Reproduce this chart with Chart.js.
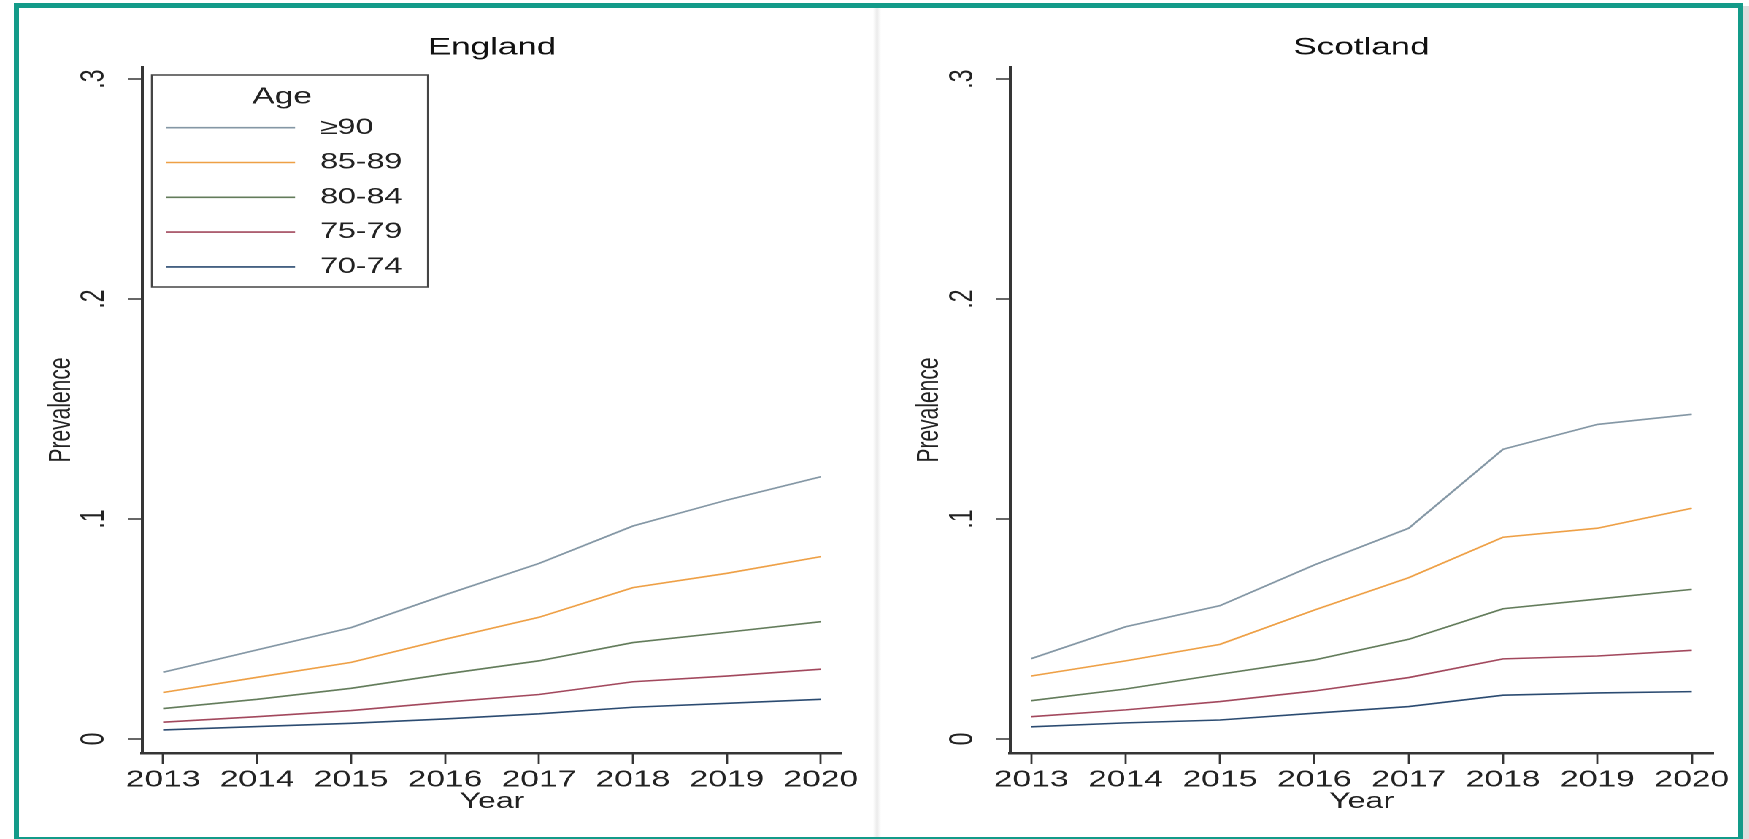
<!DOCTYPE html>
<html>
<head>
<meta charset="utf-8">
<title>Prevalence by age group, England and Scotland, 2013-2020</title>
<script src="https://cdn.jsdelivr.net/npm/chart.js@4.4.1/dist/chart.umd.min.js"></script>
<style>
  html, body { margin: 0; padding: 0; background: #ffffff; }
  body { width: 1749px; height: 839px; position: relative; overflow: hidden; font-family: "Liberation Sans", Arial, sans-serif; }
  #frame { position: absolute; left: 14px; top: 3px; width: 1729px; height: 836px; box-sizing: border-box;
           border: 5px solid #139b89; border-bottom-width: 2px; }
  #shade { position: absolute; left: 1743px; top: 6px; width: 6px; height: 833px; background: #dedede; }
  #divider { position: absolute; left: 873px; top: 8px; width: 8px; height: 829px;
             background: linear-gradient(to right, #ffffff, #ebebeb, #ffffff); }
  /* the graph is laid out on a narrower stage and widened horizontally */
  #stage { position: absolute; left: 0; top: 0; width: 1198px; height: 839px;
           transform: scaleX(1.46); transform-origin: 0 0; }
  .panel { position: absolute; top: 0; height: 839px; }
  .panel canvas { display: block; }
</style>
</head>
<body>
<div id="divider"></div>
<div id="stage">
  <div class="panel" style="left:14px;width:584px"><canvas id="england" width="584" height="839"></canvas></div>
  <div class="panel" style="left:603px;width:586px"><canvas id="scotland" width="586" height="839"></canvas></div>
</div>
<div id="frame"></div>
<div id="shade"></div>

<script>
// ---- data ----
const years = [2013, 2014, 2015, 2016, 2017, 2018, 2019, 2020];
const ageGroups = ['≥90', '85-89', '80-84', '75-79', '70-74'];
const ageColors = ['#8497a5', '#eea046', '#637c5b', '#a2485d', '#2b4b71'];
const yTicks = [0, 0.1, 0.2, 0.3];
const yTickLabels = ['0', '.1', '.2', '.3'];

// England prevalence by age group
const englandAge90plus = [0.0303, 0.0405, 0.0506, 0.0655, 0.0798, 0.0968, 0.1086, 0.1192];
const englandAge85to89 = [0.0211, 0.0280, 0.0348, 0.0453, 0.0553, 0.0688, 0.0753, 0.0829];
const englandAge80to84 = [0.0138, 0.0180, 0.0230, 0.0295, 0.0355, 0.0438, 0.0485, 0.0533];
const englandAge75to79 = [0.0076, 0.0101, 0.0129, 0.0167, 0.0202, 0.0260, 0.0286, 0.0317];
const englandAge70to74 = [0.0041, 0.0056, 0.0071, 0.0091, 0.0114, 0.0144, 0.0162, 0.0180];

// Scotland prevalence by age group
const scotlandAge90plus = [0.0365, 0.0510, 0.0606, 0.0791, 0.0958, 0.1317, 0.1430, 0.1476];
const scotlandAge85to89 = [0.0286, 0.0355, 0.0430, 0.0586, 0.0733, 0.0917, 0.0958, 0.1049];
const scotlandAge80to84 = [0.0174, 0.0227, 0.0294, 0.0359, 0.0453, 0.0592, 0.0636, 0.0680];
const scotlandAge75to79 = [0.0101, 0.0132, 0.0170, 0.0218, 0.0279, 0.0364, 0.0377, 0.0403];
const scotlandAge70to74 = [0.0055, 0.0073, 0.0086, 0.0117, 0.0147, 0.0199, 0.0209, 0.0215];

// ---- drawing ----
const FONT = '"Liberation Sans", Arial, sans-serif';
Chart.defaults.font.family = FONT;
Chart.defaults.color = '#222222';

const AXIS = '#353535';

function buildDatasets(series) {
  return series.map((values, i) => ({
    label: ageGroups[i],
    data: values,
    borderColor: ageColors[i],
    backgroundColor: ageColors[i],
    borderWidth: 1.6,
    pointRadius: 0,
    tension: 0,
    fill: false
  }));
}

// in-plot legend: pinned to the top-left of the plot area and outlined
const legendFrame = {
  id: 'legendFrame',
  afterLayout(chart, args, opts) {
    const lg = chart.legend;
    if (!lg || !lg.options.display) return;
    const ca = chart.chartArea;
    lg.left = ca.left + opts.shift;
    lg.right = lg.left + lg.width;
    lg.top = ca.top;
    lg.bottom = lg.top + lg.height;
  },
  afterDraw(chart, args, opts) {
    const lg = chart.legend;
    if (!lg || !lg.options.display) return;
    const ca = chart.chartArea;
    const ctx = chart.ctx;
    ctx.save();
    ctx.strokeStyle = '#454545';
    ctx.lineWidth = 1.5;
    ctx.strokeRect(ca.left + opts.dx, ca.top + opts.dy, opts.w, opts.h);
    ctx.restore();
  }
};

function makeChart(canvasId, title, series, pad, showLegend) {
  return new Chart(document.getElementById(canvasId), {
    type: 'line',
    data: { labels: years, datasets: buildDatasets(series) },
    plugins: [legendFrame],
    options: {
      responsive: false,
      animation: false,
      events: [],
      devicePixelRatio: 2,
      layout: { padding: { top: 10, left: pad.left, right: pad.right, bottom: 0 } },
      scales: {
        x: {
          type: 'linear',
          min: 2012.775,
          max: 2020.225,
          afterBuildTicks: (s) => { s.ticks = years.map(v => ({ value: v })); },
          afterFit: (s) => { s.height = 86; },
          grid: { display: true, drawOnChartArea: false, drawTicks: true, tickLength: 11,
                  color: AXIS, tickColor: AXIS, tickWidth: 1.4 },
          border: { display: true, color: AXIS, width: 2.5 },
          ticks: { color: '#222', font: { size: 23 }, padding: 2.2, maxRotation: 0, minRotation: 0,
                   autoSkip: false, callback: (v) => String(v) },
          title: { display: true, text: 'Year', color: '#222', font: { size: 22 },
                   padding: { top: 0, bottom: 23.8 } }
        },
        y: {
          type: 'linear',
          min: -0.0064,
          max: 0.3055,
          afterBuildTicks: (s) => { s.ticks = yTicks.map(v => ({ value: v })); },
          afterFit: (s) => { s.width = 70; },
          grid: { display: true, drawOnChartArea: false, drawTicks: true, tickLength: 9.3,
                  color: AXIS, tickColor: AXIS, tickWidth: 1.5 },
          border: { display: true, color: AXIS, width: 2 },
          ticks: { color: '#222', font: { size: 23 }, padding: 13.5, minRotation: 90, maxRotation: 90,
                   crossAlign: 'center',
                   callback: (v) => yTickLabels[yTicks.indexOf(v)] },
          title: { display: true, text: 'Prevalence', color: '#222', font: { size: 21 },
                   padding: { top: 2.2, bottom: 0 } }
        }
      },
      plugins: {
        tooltip: { enabled: false },
        title: {
          display: true, text: title, fullSize: false, color: '#111',
          font: { size: 24, weight: 'normal' },
          padding: { top: 23.6, bottom: 4.6 }
        },
        legend: {
          display: showLegend,
          position: 'chartArea',
          align: 'start',
          title: { display: true, text: 'Age', color: '#222', position: 'center',
                   font: { size: 23, lineHeight: 0.8 }, padding: { top: 18.5, bottom: 0 } },
          labels: {
            usePointStyle: true, pointStyle: 'line', pointStyleWidth: 88.4, boxHeight: 22,
            padding: 12.8, color: '#222', font: { size: 22 },
            generateLabels: (chart) => Chart.defaults.plugins.legend.labels.generateLabels(chart)
              .map(item => Object.assign(item, { text: ' ' + item.text }))
          }
        },
        legendFrame: { shift: 3.64, dx: 6.85, dy: 8, w: 189.1, h: 212 }
      }
    }
  });
}

makeChart('england', 'England',
  [englandAge90plus, englandAge85to89, englandAge80to84, englandAge75to79, englandAge70to74],
  { left: 13.26, right: 21.3 }, true);

makeChart('scotland', 'Scotland',
  [scotlandAge90plus, scotlandAge85to89, scotlandAge80to84, scotlandAge75to79, scotlandAge70to74],
  { left: 18.8, right: 15.7 }, false);
</script>
</body>
</html>
